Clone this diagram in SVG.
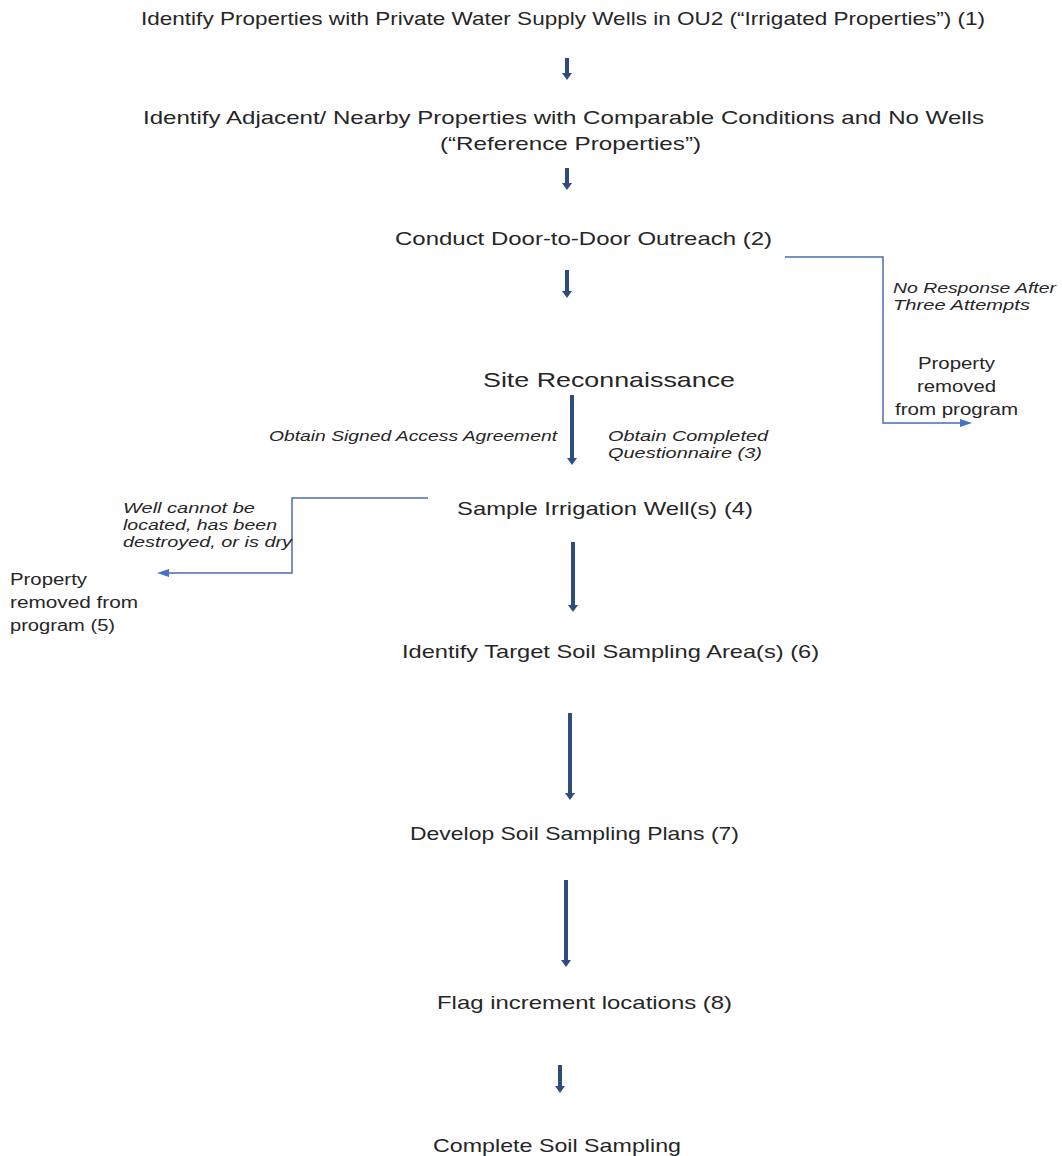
<svg xmlns="http://www.w3.org/2000/svg" width="1062" height="1156" viewBox="0 0 1062 1156">
<style>
text{font-family:"Liberation Sans",Arial,sans-serif;fill:#262626}
.n{font-size:19px}
.h{font-size:21px}
.s{font-size:16px}
.i{font-size:15px;font-style:italic}
.thick{stroke:#2e4d7e;stroke-width:4;fill:none}
.thin{stroke:#4a6db0;stroke-width:1.5;fill:none}
</style>
<defs>
<marker id="ah" viewBox="0 0 7 10" markerWidth="7" markerHeight="10" refX="1" refY="5" orient="auto" markerUnits="userSpaceOnUse"><path d="M0,0 L7,5 L0,10 z" fill="#2e4d7e"/></marker>
<marker id="at" viewBox="0 0 12 8" markerWidth="12" markerHeight="8" refX="2" refY="4" orient="auto" markerUnits="userSpaceOnUse"><path d="M0,0 L12,4 L0,8 z" fill="#4472c4"/></marker>
</defs>
<rect width="1062" height="1156" fill="#ffffff"/>
<g id="connectors">
<line class="thick" x1="567" y1="58" x2="567" y2="74" marker-end="url(#ah)"/>
<line class="thick" x1="567" y1="168" x2="567" y2="184" marker-end="url(#ah)"/>
<line class="thick" x1="567" y1="270" x2="567" y2="292" marker-end="url(#ah)"/>
<line class="thick" x1="572" y1="395" x2="572" y2="459" marker-end="url(#ah)"/>
<line class="thick" x1="573" y1="542" x2="573" y2="606" marker-end="url(#ah)"/>
<line class="thick" x1="570" y1="713" x2="570" y2="794" marker-end="url(#ah)"/>
<line class="thick" x1="566" y1="880" x2="566" y2="961" marker-end="url(#ah)"/>
<line class="thick" x1="560" y1="1065" x2="560" y2="1087" marker-end="url(#ah)"/>
<path class="thin" d="M785,257 H883 V423 H962" marker-end="url(#at)"/>
<path class="thin" d="M428,498 H292 V573 H167" marker-end="url(#at)"/>
</g>
<g id="n1"><text class="n" x="141" y="25" textLength="844" lengthAdjust="spacingAndGlyphs">Identify Properties with Private Water Supply Wells in OU2 (“Irrigated Properties”) (1)</text></g>
<g id="n2"><text class="n" x="143" y="124" textLength="841" lengthAdjust="spacingAndGlyphs">Identify Adjacent/ Nearby Properties with Comparable Conditions and No Wells</text><text class="n" x="440" y="150" textLength="261" lengthAdjust="spacingAndGlyphs">(“Reference Properties”)</text></g>
<g id="n3"><text class="n" x="395" y="245" textLength="377" lengthAdjust="spacingAndGlyphs">Conduct Door-to-Door Outreach (2)</text></g>
<g id="n-removed-right"><text class="s" x="918" y="369" textLength="77" lengthAdjust="spacingAndGlyphs">Property</text><text class="s" x="917" y="392" textLength="79" lengthAdjust="spacingAndGlyphs">removed</text><text class="s" x="895" y="415" textLength="123" lengthAdjust="spacingAndGlyphs">from program</text></g>
<g id="lbl-no-response"><text class="i" x="893" y="293" textLength="163" lengthAdjust="spacingAndGlyphs">No Response After</text><text class="i" x="893" y="310" textLength="137" lengthAdjust="spacingAndGlyphs">Three Attempts</text></g>
<g id="n4"><text class="h" x="483" y="387" textLength="252" lengthAdjust="spacingAndGlyphs">Site Reconnaissance</text></g>
<g id="lbl-access"><text class="i" x="269" y="441" textLength="288" lengthAdjust="spacingAndGlyphs">Obtain Signed Access Agreement</text></g>
<g id="lbl-questionnaire"><text class="i" x="608" y="441" textLength="160" lengthAdjust="spacingAndGlyphs">Obtain Completed</text><text class="i" x="608" y="458" textLength="154" lengthAdjust="spacingAndGlyphs">Questionnaire (3)</text></g>
<g id="n5"><text class="n" x="457" y="515" textLength="296" lengthAdjust="spacingAndGlyphs">Sample Irrigation Well(s) (4)</text></g>
<g id="lbl-well"><text class="i" x="123" y="513" textLength="132" lengthAdjust="spacingAndGlyphs">Well cannot be</text><text class="i" x="123" y="530" textLength="154" lengthAdjust="spacingAndGlyphs">located, has been</text><text class="i" x="123" y="547" textLength="169" lengthAdjust="spacingAndGlyphs">destroyed, or is dry</text></g>
<g id="n-removed-left"><text class="s" x="10" y="585" textLength="77" lengthAdjust="spacingAndGlyphs">Property</text><text class="s" x="10" y="608" textLength="128" lengthAdjust="spacingAndGlyphs">removed from</text><text class="s" x="10" y="631" textLength="105" lengthAdjust="spacingAndGlyphs">program (5)</text></g>
<g id="n6"><text class="n" x="402" y="658" textLength="417" lengthAdjust="spacingAndGlyphs">Identify Target Soil Sampling Area(s) (6)</text></g>
<g id="n7"><text class="n" x="410" y="840" textLength="329" lengthAdjust="spacingAndGlyphs">Develop Soil Sampling Plans (7)</text></g>
<g id="n8"><text class="n" x="437" y="1009" textLength="295" lengthAdjust="spacingAndGlyphs">Flag increment locations (8)</text></g>
<g id="n9"><text class="n" x="433" y="1152" textLength="248" lengthAdjust="spacingAndGlyphs">Complete Soil Sampling</text></g>
</svg>
